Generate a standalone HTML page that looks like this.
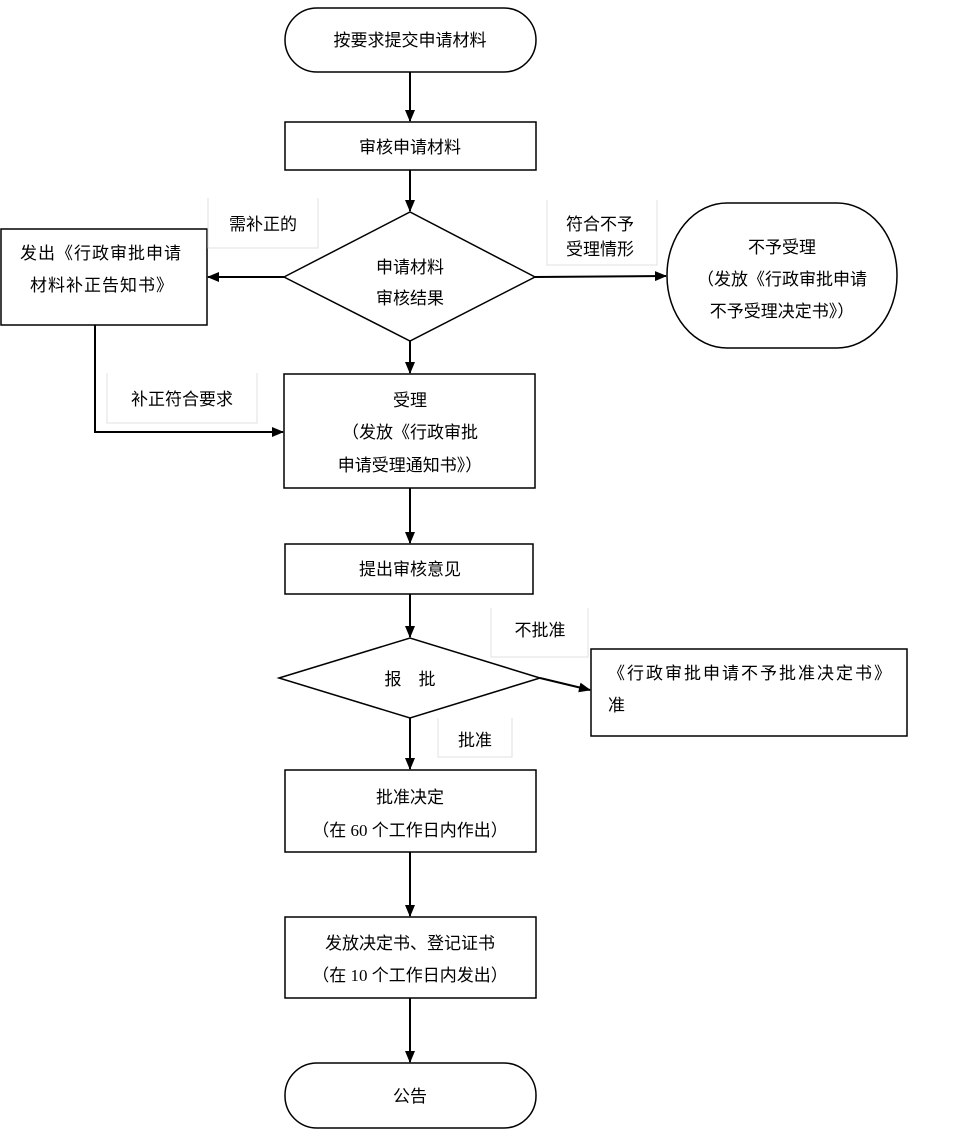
<!DOCTYPE html>
<html><head><meta charset="utf-8"><style>
html,body{margin:0;padding:0;background:#fff;}
svg{display:block;}
text{font-family:"Liberation Serif","Noto Sans CJK SC",sans-serif;font-size:17px;fill:#000;}
</style></head><body>
<svg width="977" height="1140" viewBox="0 0 977 1140" xmlns="http://www.w3.org/2000/svg">
<defs>
<marker id="a" markerWidth="12" markerHeight="10" refX="11" refY="5" orient="auto" markerUnits="userSpaceOnUse">
<path d="M0,0 L12,5 L0,10 z" fill="#000"/></marker>
</defs>
<g fill="none" stroke="#000" stroke-width="1.5">
<rect x="285" y="8" width="251" height="64" rx="32"/>
<rect x="285" y="122" width="251" height="48"/>
<polygon points="284,277 410,212 535,277 410,341"/>
<rect x="1" y="229" width="206" height="96"/>
<rect x="667" y="203" width="230" height="145" rx="60" ry="72"/>
<rect x="284" y="374" width="251" height="114"/>
<rect x="285" y="544" width="248" height="50"/>
<polygon points="279,678 410,638 540,678 410,718"/>
<rect x="591" y="649" width="316" height="87"/>
<rect x="285" y="770" width="251" height="82"/>
<rect x="285" y="917" width="251" height="81"/>
<rect x="285" y="1063" width="251" height="65" rx="32"/>
</g>
<g fill="none" stroke="#e0e0e0" stroke-width="1">
<polyline points="208,198 208,248 318,248 318,198"/>
<polyline points="547,200 547,265 657,265 657,200"/>
<polyline points="107,373 107,423 257,423 257,373"/>
<polyline points="491,608 491,657 588,657 588,608"/>
<polyline points="438,718 438,757 512,757 512,718"/>
</g>
<g fill="none" stroke="#000" stroke-width="2">
<line x1="410" y1="72" x2="410" y2="121" marker-end="url(#a)"/>
<line x1="410" y1="170" x2="410" y2="211" marker-end="url(#a)"/>
<line x1="284" y1="277" x2="208" y2="277" marker-end="url(#a)"/>
<line x1="535" y1="277" x2="666" y2="276" marker-end="url(#a)"/>
<line x1="410" y1="341" x2="410" y2="373" marker-end="url(#a)"/>
<polyline points="95,325 95,432 283,432" marker-end="url(#a)"/>
<line x1="410" y1="488" x2="410" y2="543" marker-end="url(#a)"/>
<line x1="410" y1="594" x2="410" y2="637" marker-end="url(#a)"/>
<line x1="540" y1="678" x2="590" y2="690" marker-end="url(#a)"/>
<line x1="410" y1="718" x2="410" y2="769" marker-end="url(#a)"/>
<line x1="410" y1="852" x2="410" y2="916" marker-end="url(#a)"/>
<line x1="410" y1="998" x2="410" y2="1062" marker-end="url(#a)"/>
</g>
<g text-anchor="middle">
<text x="410" y="46">按要求提交申请材料</text>
<text x="410" y="153">审核申请材料</text>
<text x="410" y="273">申请材料</text>
<text x="410" y="304">审核结果</text>
<text x="263" y="230">需补正的</text>
<text x="782" y="253">不予受理</text>
<text x="782" y="285">（发放《行政审批申请</text>
<text x="782" y="317">不予受理决定书》）</text>
<text x="410" y="406">受理</text>
<text x="410" y="438">（发放《行政审批</text>
<text x="410" y="471">申请受理通知书》）</text>
<text x="182" y="405">补正符合要求</text>
<text x="410" y="575">提出审核意见</text>
<text x="410" y="685" xml:space="preserve">报    批</text>
<text x="540" y="636">不批准</text>
<text x="475" y="746">批准</text>
<text x="410" y="803">批准决定</text>
<text x="410" y="836">（在 60 个工作日内作出）</text>
<text x="410" y="949">发放决定书、登记证书</text>
<text x="410" y="981">（在 10 个工作日内发出）</text>
<text x="410" y="1102">公告</text>
</g>
<text x="20" y="259" letter-spacing="1">发出《行政审批申请</text>
<text x="30" y="291" letter-spacing="1">材料补正告知书》</text>
<text x="566" y="230">符合不予</text>
<text x="566" y="255">受理情形</text>
<text x="608" y="679" letter-spacing="2">《行政审批申请不予批准决定书》</text>
<text x="608" y="711">准</text>
</svg>
</body></html>
